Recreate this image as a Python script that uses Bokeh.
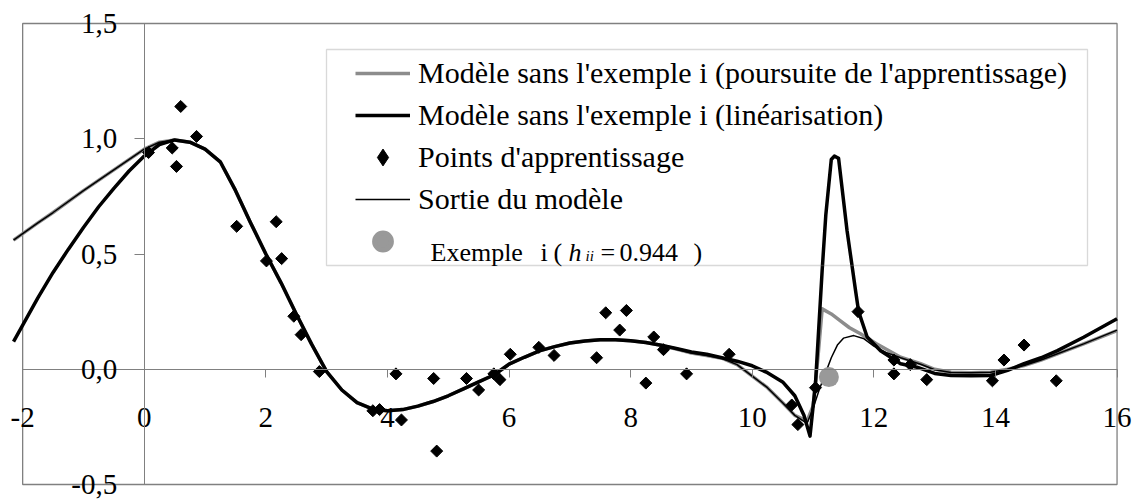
import numpy as np
from bokeh.plotting import figure
from bokeh.models import (Range1d, FixedTicker, BoxAnnotation, Legend, LegendItem, Label)
from bokeh.embed import file_html
from bokeh.resources import INLINE

FONT = "Liberation Serif"

# ---------------- data ----------------
# Modèle sans l'exemple i (poursuite de l'apprentissage)  -- gray thick
gray_x = [-2.15, -1.75, -1.5, -1.0, -0.5, 0.0, 0.25, 0.5, 0.75, 1.0, 1.25, 1.5, 1.75, 2.0,
          2.25, 2.5, 2.75, 3.0, 3.25, 3.5, 3.75, 4.0, 4.25, 4.5, 4.75, 5.0, 5.25, 5.5, 5.75,
          6.0, 6.25, 6.5, 6.75, 7.0, 7.25, 7.5, 7.75, 8.0, 8.25, 8.5, 8.75, 9.0, 9.25, 9.5,
          9.75, 10.0, 10.25, 10.5, 10.7, 10.9, 11.0, 11.08, 11.15, 11.3, 11.45, 11.6, 11.78,
          12.05, 12.44, 12.77, 13.0, 13.27, 13.6, 13.92, 14.2, 14.47, 14.75, 15.02, 15.45, 16.0]
gray_y = [0.56, 0.635, 0.68, 0.775, 0.865, 0.955, 0.985, 0.995, 0.985, 0.955, 0.9, 0.776, 0.635, 0.5,
          0.375, 0.24, 0.11, -0.01, -0.09, -0.145, -0.172, -0.18, -0.175, -0.16, -0.14, -0.115, -0.085, -0.055, -0.025,
          0.022, 0.052, 0.08, 0.098, 0.114, 0.123, 0.128, 0.128, 0.124, 0.116, 0.104, 0.088, 0.07, 0.06, 0.048,
          0.02, -0.03, -0.08, -0.145, -0.2, -0.225, -0.16, 0.05, 0.262, 0.24, 0.21, 0.18, 0.154,
          0.11, 0.052, 0.024, 0.0, -0.013, -0.015, -0.013, 0.0, 0.016, 0.04, 0.067, 0.11, 0.168]

# Modèle sans l'exemple i (linéarisation)  -- black thick
lin_x = [-2.15, -1.75, -1.5, -1.25, -1.0, -0.75, -0.5, -0.25, 0.0, 0.25, 0.5, 0.75, 1.0, 1.25, 1.5,
         1.75, 2.0, 2.25, 2.5, 2.75, 3.0, 3.25, 3.5, 3.75, 4.0, 4.25, 4.5, 4.75, 5.0, 5.25, 5.5, 5.75,
         6.0, 6.25, 6.5, 6.75, 7.0, 7.25, 7.5, 7.75, 8.0, 8.25, 8.5, 8.75, 9.0, 9.25, 9.5, 9.75, 10.0,
         10.25, 10.5, 10.7, 10.85, 10.95, 11.04, 11.15, 11.21, 11.3, 11.35, 11.42, 11.56, 11.7, 11.75,
         11.89, 12.11, 12.44, 12.71, 13.0, 13.27, 13.6, 13.92, 14.2, 14.47, 14.75, 15.02, 15.45, 16.0]
lin_y = [0.12, 0.31, 0.42, 0.52, 0.615, 0.705, 0.785, 0.86, 0.925, 0.975, 0.995, 0.985, 0.955, 0.9, 0.776,
         0.635, 0.5, 0.375, 0.24, 0.11, -0.01, -0.09, -0.145, -0.172, -0.18, -0.175, -0.16, -0.14, -0.115, -0.085, -0.055, -0.025,
         0.022, 0.052, 0.08, 0.098, 0.114, 0.123, 0.128, 0.128, 0.124, 0.116, 0.104, 0.09, 0.075, 0.065, 0.05, 0.035, 0.015,
         -0.015, -0.055, -0.115, -0.2, -0.29, -0.063, 0.43, 0.67, 0.91, 0.925, 0.915, 0.6, 0.34, 0.25,
         0.14, 0.08, 0.024, 0.009, -0.018, -0.027, -0.028, -0.027, -0.005, 0.024, 0.05, 0.081, 0.139, 0.219]

# Sortie du modèle -- thin black
out_x = [-2.15, -1.75, -1.5, -1.0, -0.5, 0.0, 0.25, 0.5, 0.75, 1.0, 1.25, 1.5, 1.75, 2.0,
         2.25, 2.5, 2.75, 3.0, 3.25, 3.5, 3.75, 4.0, 4.25, 4.5, 4.75, 5.0, 5.25, 5.5, 5.75,
         6.0, 6.25, 6.5, 6.75, 7.0, 7.25, 7.5, 7.75, 8.0, 8.25, 8.5, 8.75, 9.0, 9.25, 9.5,
         9.75, 10.0, 10.25, 10.5, 10.7, 10.9, 11.0, 11.1, 11.2, 11.3, 11.4, 11.5, 11.67, 11.84,
         12.0, 12.2, 12.44, 12.77, 13.0, 13.27, 13.6, 13.92, 14.2, 14.47, 14.75, 15.02, 15.45, 16.0]
out_y = [0.56, 0.635, 0.68, 0.775, 0.865, 0.955, 0.985, 0.995, 0.985, 0.955, 0.9, 0.776, 0.635, 0.5,
         0.375, 0.24, 0.11, -0.01, -0.09, -0.145, -0.172, -0.18, -0.175, -0.16, -0.14, -0.115, -0.085, -0.055, -0.025,
         0.022, 0.052, 0.08, 0.098, 0.114, 0.123, 0.128, 0.128, 0.124, 0.116, 0.104, 0.088, 0.07, 0.06, 0.048,
         0.02, -0.03, -0.08, -0.145, -0.2, -0.235, -0.17, -0.09, -0.02, 0.05, 0.105, 0.135, 0.146, 0.132,
         0.1, 0.073, 0.05, 0.022, -0.002, -0.014, -0.015, -0.013, 0.0, 0.016, 0.04, 0.067, 0.11, 0.17]

# Points d'apprentissage
pts_x = [0.07, 0.46, 0.53, 0.60, 0.86, 1.52, 2.01, 2.17, 2.26, 2.46, 2.58, 2.88, 3.76, 3.87,
         4.14, 4.23, 4.76, 4.81, 5.30, 5.50, 5.75, 5.85, 6.02, 6.49, 6.74, 7.44, 7.59, 7.82,
         7.93, 8.25, 8.38, 8.54, 8.92, 9.62, 10.65, 10.75, 11.04, 11.74, 12.33, 12.33, 12.60,
         12.87, 13.95, 14.14, 14.47, 15.00]
pts_y = [0.94, 0.96, 0.88, 1.14, 1.01, 0.62, 0.47, 0.64, 0.48, 0.23, 0.15, -0.01, -0.18, -0.175,
         -0.02, -0.22, -0.04, -0.355, -0.04, -0.09, -0.02, -0.045, 0.065, 0.095, 0.06, 0.05, 0.245, 0.17,
         0.255, -0.06, 0.14, 0.085, -0.02, 0.065, -0.155, -0.24, -0.08, 0.25, 0.04, -0.02, 0.02,
         -0.045, -0.05, 0.04, 0.105, -0.05]

# Exemple i
ex_x = [11.26]
ex_y = [-0.034]

x_ticks = [-2, 0, 2, 4, 6, 8, 10, 12, 14, 16]
x_tick_labels = ["-2", "0", "2", "4", "6", "8", "10", "12", "14", "16"]
y_ticks = [-0.5, 0.0, 0.5, 1.0, 1.5]
y_tick_labels = ["-0,5", "0,0", "0,5", "1,0", "1,5"]

legend_labels = ["Modèle sans l'exemple i (poursuite de l'apprentissage)",
                 "Modèle sans l'exemple i (linéarisation)",
                 "Points d'apprentissage",
                 "Sortie du modèle"]

GRAY_LINE = "#8c8c8c"
GRAY_DOT = "#999999"
AXIS_GRAY = "#808080"

# ---------------- figure ----------------
# frame spans page x 10..1134, y 10..498 so that the crossing axes' labels are not clipped;
# the visible plot-area box (axis bounds) is drawn separately.
p = figure(width=1139, height=500, x_range=Range1d(-2.2, 16.287), y_range=Range1d(-0.5607, 1.5564),
           output_backend="svg", toolbar_location=None, title=None,
           min_border_left=10, min_border_right=5, min_border_top=10, min_border_bottom=2)
p.xgrid.visible = False
p.ygrid.visible = False
p.outline_line_color = None
p.background_fill_color = "white"
p.border_fill_color = "white"

xa = p.xaxis[0]
xa.fixed_location = 0
xa.bounds = (x_ticks[0], x_ticks[-1])
xa.ticker = FixedTicker(ticks=x_ticks)
xa.major_label_overrides = dict(zip(x_ticks, x_tick_labels))
xa.axis_line_color = AXIS_GRAY
xa.major_tick_line_color = AXIS_GRAY
xa.major_tick_in = 0
xa.major_tick_out = 8
xa.minor_tick_line_color = None
xa.major_label_standoff = 31
xa.major_label_text_font = FONT
xa.major_label_text_font_size = "29px"
xa.major_label_text_color = "black"

ya = p.yaxis[0]
ya.fixed_location = 0
ya.bounds = (y_ticks[0], y_ticks[-1])
ya.ticker = FixedTicker(ticks=y_ticks)
ya.major_label_overrides = dict(zip(y_ticks, y_tick_labels))
ya.axis_line_color = AXIS_GRAY
ya.major_tick_line_color = AXIS_GRAY
ya.major_tick_in = 0
ya.major_tick_out = 10
ya.minor_tick_line_color = None
ya.major_label_standoff = 17
ya.major_label_text_font = FONT
ya.major_label_text_font_size = "29px"
ya.major_label_text_color = "black"

# plot-area frame (drawn below the series)
p.quad(left=[x_ticks[0]], right=[x_ticks[-1]], bottom=[y_ticks[0]], top=[y_ticks[-1]],
       fill_color=None, line_color=AXIS_GRAY, line_width=1.3)

# ---------------- glyphs ----------------
r_gray = p.line(gray_x, gray_y, line_color=GRAY_LINE, line_width=3.5, line_join="round")
r_lin = p.line(lin_x, lin_y, line_color="black", line_width=3.5, line_join="round")
r_pts = p.scatter(pts_x, pts_y, marker="square", angle=np.pi / 4, size=8.5,
                  fill_color="black", line_color="black", line_width=1)
r_out = p.line(out_x, out_y, line_color="black", line_width=1.5, line_join="round")
r_ex = p.scatter(ex_x, ex_y, marker="circle", size=20, fill_color=GRAY_DOT, line_color=None)

# legend-only glyph samples
leg_pts = p.scatter([np.nan], [np.nan], marker="diamond", fill_color="black", line_color="black", line_width=1)
leg_ex = p.scatter([np.nan], [np.nan], marker="circle", fill_color=GRAY_DOT, line_color=GRAY_DOT, line_width=5)

# legend box (screen units relative to frame; frame left page=10, bottom page=498)
p.add_layout(BoxAnnotation(left=316, right=1077, top=449, bottom=233,
                           left_units="screen", right_units="screen",
                           top_units="screen", bottom_units="screen",
                           fill_alpha=0, line_color=AXIS_GRAY, line_width=1.3))

legend = Legend(items=[LegendItem(label=legend_labels[0], renderers=[r_gray]),
                       LegendItem(label=legend_labels[1], renderers=[r_lin]),
                       LegendItem(label=legend_labels[2], renderers=[leg_pts]),
                       LegendItem(label=legend_labels[3], renderers=[r_out]),
                       LegendItem(label=" ", renderers=[leg_ex])],
                location=(345, 236), orientation="vertical", padding=0, margin=0, spacing=0,
                glyph_width=55, glyph_height=42, label_height=42, label_standoff=8,
                label_text_font=FONT, label_text_font_size="30px", label_text_color="black",
                border_line_color=None, background_fill_alpha=0)
p.add_layout(legend)

# 5th legend entry text: Exemple  i ( h_ii = 0.944 )
def lab(x, y, text, size="26px", style="normal"):
    p.add_layout(Label(x=x, y=y, x_units="screen", y_units="screen", text=text,
                       text_font=FONT, text_font_size=size, text_font_style=style,
                       text_baseline="alphabetic", text_color="black"))

base = 246
lab(420, base, "Exemple")
lab(530, base, "i")
lab(543, base, "(")
lab(558, base, "h", style="italic")
lab(575, base - 3, "ii", size="15px", style="italic")
lab(590, base, "=")
lab(609, base, "0.944")
lab(683, base, ")")

open("out.html", "w").write(file_html(p, INLINE))
